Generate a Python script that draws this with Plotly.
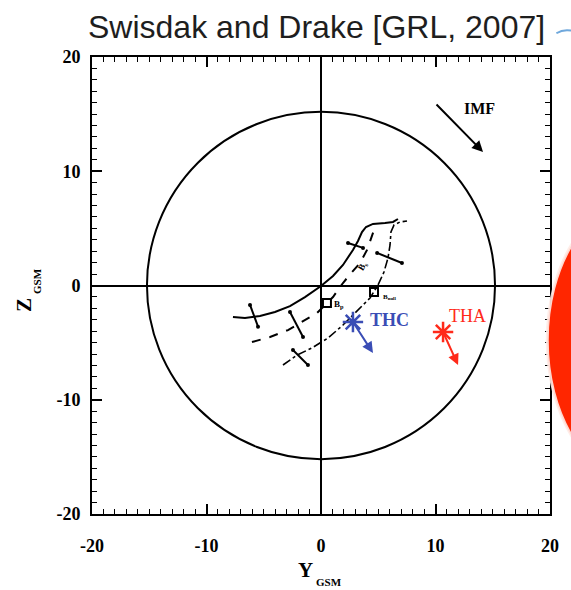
import plotly.graph_objects as go

# ---- data (GSM coordinates, Earth radii) ----
solid_y = [-7.69, -6.64, -5.33, -4.02, -2.71, -1.40, 0.00, 1.05, 1.92, 2.79, 3.23, 3.58, 3.93, 4.54, 5.59, 6.29, 6.72]
solid_z = [-2.76, -2.85, -2.67, -2.32, -1.80, -1.01, -0.04, 0.83, 1.80, 3.11, 3.90, 4.68, 5.12, 5.39, 5.47, 5.56, 5.82]

dash_y = [-6.03, -4.45, -2.88, -1.40, -0.35, 1.05, 1.92, 2.71, 3.41, 4.02, 4.45, 4.72]
dash_z = [-4.95, -4.51, -3.90, -3.02, -2.41, -1.01, 0.22, 1.18, 1.97, 3.11, 4.25, 5.12]

dashdot_y = [-3.32, -2.10, -0.79, 0.61, 1.92, 3.23, 4.28, 4.98, 5.50, 5.85, 6.03, 6.11, 6.38, 6.90, 7.51]
dashdot_z = [-6.96, -6.09, -5.47, -4.60, -3.46, -2.15, -1.09, 0.04, 1.18, 2.41, 3.55, 4.68, 5.30, 5.56, 5.65]

# short cross-marks on the curves: (y0, z0, y1, z1)
cross_marks = [(-6.2, -1.7, -5.5, -3.6), (2.36, 3.72, 3.67, 3.29),
               (-2.71, -2.32, -1.57, -4.51),
               (-2.45, -5.65, -1.14, -6.96), (4.9, 2.85, 7.07, 1.97)]

squares_y = [0.52, 4.63]
squares_z = [-1.53, -0.57]

thc_pos = (2.79, -3.2)
thc_end = (4.54, -5.91)
tha_pos = (10.66, -4.07)
tha_end = (11.97, -6.96)
imf_start = (9.96, 15.98)
imf_end = (14.15, 11.69)

magnetopause_r = 15.2
tick_vals = [-20, -10, 0, 10, 20]
tick_text = ["-20", "-10", "0", "10", "20"]

BLUE = "#3a4db5"
RED = "#ff2a1a"

fig = go.Figure()

fig.add_trace(go.Scatter(x=solid_y, y=solid_z, mode="lines",
                         line=dict(color="black", width=2, dash="solid"), hoverinfo="skip"))
fig.add_trace(go.Scatter(x=dash_y, y=dash_z, mode="lines",
                         line=dict(color="black", width=2, dash="dash"), hoverinfo="skip"))
fig.add_trace(go.Scatter(x=dashdot_y, y=dashdot_z, mode="lines",
                         line=dict(color="black", width=1.6, dash="dashdot"), hoverinfo="skip"))

for (a, b, c, d) in cross_marks:
    fig.add_trace(go.Scatter(x=[a, c], y=[b, d], mode="lines+markers",
                             line=dict(color="black", width=2),
                             marker=dict(size=4, color="black"), hoverinfo="skip"))

fig.add_trace(go.Scatter(x=squares_y, y=squares_z, mode="markers",
                         marker=dict(symbol="square-open", size=8, color="black",
                                     line=dict(width=2, color="black")), hoverinfo="skip"))

fig.add_trace(go.Scatter(x=[thc_pos[0]], y=[thc_pos[1]], mode="markers",
                         marker=dict(symbol="asterisk-open", size=17, color=BLUE,
                                     line=dict(width=2.5, color=BLUE)), hoverinfo="skip"))
fig.add_trace(go.Scatter(x=[tha_pos[0]], y=[tha_pos[1]], mode="markers",
                         marker=dict(symbol="asterisk-open", size=17, color=RED,
                                     line=dict(width=2.5, color=RED)), hoverinfo="skip"))

shapes = [
    dict(type="circle", xref="x", yref="y", x0=-magnetopause_r, x1=magnetopause_r,
         y0=-magnetopause_r, y1=magnetopause_r, line=dict(color="black", width=2)),
    # cropped red blob at the right edge of the picture
    dict(type="circle", xref="paper", yref="paper", x0=0.994, x1=1.40, y0=0.070, y1=0.690,
         fillcolor="#ff2600", line=dict(color="rgba(255,235,230,0.9)", width=3), layer="above"),
    dict(type="path", xref="paper", yref="paper",
         path="M 1.014,1.052 Q 1.030,1.062 1.050,1.057",
         line=dict(color="#6fa8dc", width=2)),
]

serif = "Liberation Serif"


def ann(x, y, text, size, color="black", angle=0, data=False, **kw):
    family = kw.pop("family", serif)
    d = dict(x=x, y=y, xref="x" if data else "paper", yref="y" if data else "paper",
             text=text, showarrow=False,
             xanchor="center", yanchor="middle", textangle=angle,
             font=dict(family=family, size=size, color=color))
    d.update(kw)
    return d


def px_x(p):
    return (p - 92) / 458


def px_y(p):
    return (514 - p) / 457


annotations = [
    dict(x=thc_end[0], y=thc_end[1], ax=thc_pos[0], ay=thc_pos[1], axref="x", ayref="y",
         xref="x", yref="y", text="", showarrow=True, arrowhead=2, arrowsize=1.1,
         arrowwidth=2, arrowcolor=BLUE, standoff=0),
    dict(x=tha_end[0], y=tha_end[1], ax=tha_pos[0], ay=tha_pos[1], axref="x", ayref="y",
         xref="x", yref="y", text="", showarrow=True, arrowhead=2, arrowsize=1.1,
         arrowwidth=2, arrowcolor=RED, standoff=0),
    dict(x=imf_end[0], y=imf_end[1], ax=imf_start[0], ay=imf_start[1], axref="x", ayref="y",
         xref="x", yref="y", text="", showarrow=True, arrowhead=2, arrowsize=1.1,
         arrowwidth=2, arrowcolor="black", standoff=0),
    ann(13.8, 15.5, "<b>IMF</b>", 16, data=True),
    ann(4.1, -3.0, "<b>THC</b>", 18, BLUE, data=True, xanchor="left"),
    ann(11.0, -2.7, "THA", 18, RED, data=True, xanchor="left"),
    ann(0.95, -1.7, "<b>B<sub>p</sub></b>", 9, data=True, xanchor="left"),
    ann(5.2, -1.0, "<b>B<sub>null</sub></b>", 7, data=True, xanchor="left"),
    ann(3.6, 1.7, "<b>B<sub>s</sub></b>", 9, angle=-60, data=True),
    # title
    ann(px_x(316.5), px_y(27), "Swisdak and Drake [GRL, 2007]", 32, "#1e1e1e",
        family="Liberation Sans"),
    # axis titles
    ann(px_x(305), px_y(570), "<b>Y</b>", 21),
    ann(px_x(329), px_y(582), "<b>GSM</b>", 11),
    ann(px_x(24), px_y(305), "<b>Z</b>", 21, angle=-90),
    ann(px_x(37), px_y(281), "<b>GSM</b>", 11, angle=-90),
]

axis_common = dict(
    range=[-20, 20], tickmode="array", tickvals=tick_vals, ticktext=tick_text,
    ticks="inside", ticklen=10, tickwidth=1.5, tickcolor="black",
    minor=dict(dtick=1, ticks="inside", ticklen=5, tickwidth=1.2, tickcolor="black"),
    showline=True, linecolor="black", linewidth=2, mirror="ticks",
    showgrid=False, zeroline=True, zerolinecolor="black", zerolinewidth=2,
    tickfont=dict(family=serif, size=18, color="black", weight="bold"), fixedrange=True,
)

fig.update_layout(
    width=571, height=590, autosize=False,
    margin=dict(l=92, r=21, t=57, b=76),
    paper_bgcolor="white", plot_bgcolor="white",
    showlegend=False,
    xaxis=dict(**axis_common, ticklabelstandoff=14),
    yaxis=dict(**axis_common, ticklabelstandoff=6),
    shapes=shapes, annotations=annotations,
)

fig.write_html("out.html")
